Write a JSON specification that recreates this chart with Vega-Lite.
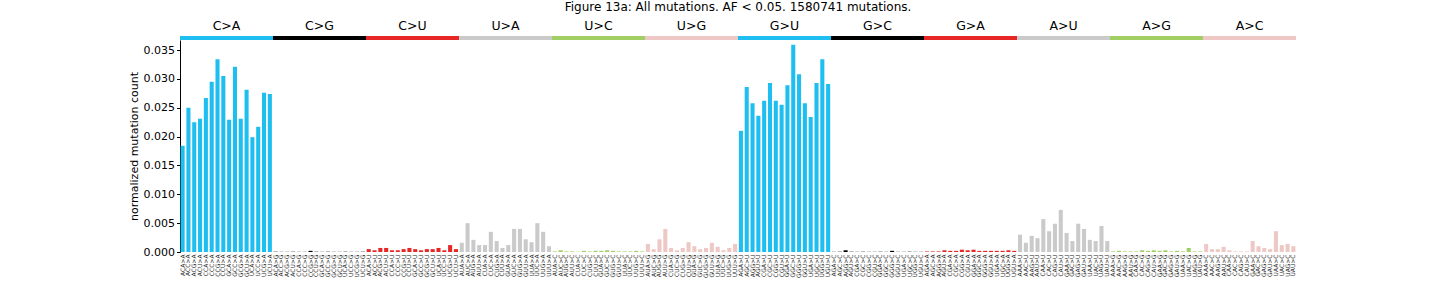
{
  "$schema": "https://vega.github.io/schema/vega-lite/v6.json",
  "padding": {"left": 128, "top": 1, "right": 144, "bottom": 8},
  "background": "white",
  "title": {"text": "Figure 13a: All mutations. AF < 0.05. 1580741 mutations.", "fontSize": 12, "font": "DejaVu Sans", "fontWeight": "normal", "color": "#000000", "anchor": "middle", "frame": "group", "offset": 5},
  "config": {"view": {"stroke": null}, "font": "DejaVu Sans"},
  "spacing": 0,
  "datasets": {
    "types": [
      {"type": "C>A"}, {"type": "C>G"}, {"type": "C>U"}, {"type": "U>A"}, {"type": "U>C"}, {"type": "U>G"},
      {"type": "G>U"}, {"type": "G>C"}, {"type": "G>A"}, {"type": "A>U"}, {"type": "A>G"}, {"type": "A>C"}
    ],
    "bars": [
      {"label": "ACA>A", "type": "C>A", "value": 0.0184},
      {"label": "ACC>A", "type": "C>A", "value": 0.0250},
      {"label": "ACG>A", "type": "C>A", "value": 0.0225},
      {"label": "ACU>A", "type": "C>A", "value": 0.0231},
      {"label": "CCA>A", "type": "C>A", "value": 0.0267},
      {"label": "CCC>A", "type": "C>A", "value": 0.0295},
      {"label": "CCG>A", "type": "C>A", "value": 0.0334},
      {"label": "CCU>A", "type": "C>A", "value": 0.0305},
      {"label": "GCA>A", "type": "C>A", "value": 0.0229},
      {"label": "GCC>A", "type": "C>A", "value": 0.0321},
      {"label": "GCG>A", "type": "C>A", "value": 0.0231},
      {"label": "GCU>A", "type": "C>A", "value": 0.0281},
      {"label": "UCA>A", "type": "C>A", "value": 0.0199},
      {"label": "UCC>A", "type": "C>A", "value": 0.0217},
      {"label": "UCG>A", "type": "C>A", "value": 0.0276},
      {"label": "UCU>A", "type": "C>A", "value": 0.0274},
      {"label": "ACA>G", "type": "C>G", "value": 0.00005},
      {"label": "ACC>G", "type": "C>G", "value": 0.00003},
      {"label": "ACG>G", "type": "C>G", "value": 0.00003},
      {"label": "ACU>G", "type": "C>G", "value": 0.00005},
      {"label": "CCA>G", "type": "C>G", "value": 0.00003},
      {"label": "CCC>G", "type": "C>G", "value": 0.00003},
      {"label": "CCG>G", "type": "C>G", "value": 0.0002},
      {"label": "CCU>G", "type": "C>G", "value": 0.00005},
      {"label": "GCA>G", "type": "C>G", "value": 0.00003},
      {"label": "GCC>G", "type": "C>G", "value": 0.00005},
      {"label": "GCG>G", "type": "C>G", "value": 0.00003},
      {"label": "GCU>G", "type": "C>G", "value": 0.00003},
      {"label": "UCA>G", "type": "C>G", "value": 0.00005},
      {"label": "UCC>G", "type": "C>G", "value": 0.00003},
      {"label": "UCG>G", "type": "C>G", "value": 0.00003},
      {"label": "UCU>G", "type": "C>G", "value": 0.00005},
      {"label": "ACA>U", "type": "C>U", "value": 0.0005},
      {"label": "ACC>U", "type": "C>U", "value": 0.0003},
      {"label": "ACG>U", "type": "C>U", "value": 0.0007},
      {"label": "ACU>U", "type": "C>U", "value": 0.0007},
      {"label": "CCA>U", "type": "C>U", "value": 0.0003},
      {"label": "CCC>U", "type": "C>U", "value": 0.0003},
      {"label": "CCG>U", "type": "C>U", "value": 0.0005},
      {"label": "CCU>U", "type": "C>U", "value": 0.0007},
      {"label": "GCA>U", "type": "C>U", "value": 0.0005},
      {"label": "GCC>U", "type": "C>U", "value": 0.0003},
      {"label": "GCG>U", "type": "C>U", "value": 0.0005},
      {"label": "GCU>U", "type": "C>U", "value": 0.0005},
      {"label": "UCA>U", "type": "C>U", "value": 0.0007},
      {"label": "UCC>U", "type": "C>U", "value": 0.0003},
      {"label": "UCG>U", "type": "C>U", "value": 0.0012},
      {"label": "UCU>U", "type": "C>U", "value": 0.0005},
      {"label": "AUA>A", "type": "U>A", "value": 0.0016},
      {"label": "AUC>A", "type": "U>A", "value": 0.0050},
      {"label": "AUG>A", "type": "U>A", "value": 0.0021},
      {"label": "AUU>A", "type": "U>A", "value": 0.0012},
      {"label": "CUA>A", "type": "U>A", "value": 0.0012},
      {"label": "CUC>A", "type": "U>A", "value": 0.0035},
      {"label": "CUG>A", "type": "U>A", "value": 0.0019},
      {"label": "CUU>A", "type": "U>A", "value": 0.0007},
      {"label": "GUA>A", "type": "U>A", "value": 0.0012},
      {"label": "GUC>A", "type": "U>A", "value": 0.0040},
      {"label": "GUG>A", "type": "U>A", "value": 0.0040},
      {"label": "GUU>A", "type": "U>A", "value": 0.0022},
      {"label": "UUA>A", "type": "U>A", "value": 0.0017},
      {"label": "UUC>A", "type": "U>A", "value": 0.0050},
      {"label": "UUG>A", "type": "U>A", "value": 0.0035},
      {"label": "UUU>A", "type": "U>A", "value": 0.0010},
      {"label": "AUA>C", "type": "U>C", "value": 0.0001},
      {"label": "AUC>C", "type": "U>C", "value": 0.0003},
      {"label": "AUG>C", "type": "U>C", "value": 0.0001},
      {"label": "AUU>C", "type": "U>C", "value": 0.0001},
      {"label": "CUA>C", "type": "U>C", "value": 0.00005},
      {"label": "CUC>C", "type": "U>C", "value": 0.0002},
      {"label": "CUG>C", "type": "U>C", "value": 0.0001},
      {"label": "CUU>C", "type": "U>C", "value": 0.0002},
      {"label": "GUA>C", "type": "U>C", "value": 0.0002},
      {"label": "GUC>C", "type": "U>C", "value": 0.0003},
      {"label": "GUG>C", "type": "U>C", "value": 0.0002},
      {"label": "GUU>C", "type": "U>C", "value": 0.0001},
      {"label": "UUA>C", "type": "U>C", "value": 0.0001},
      {"label": "UUC>C", "type": "U>C", "value": 0.0001},
      {"label": "UUG>C", "type": "U>C", "value": 0.0002},
      {"label": "UUU>C", "type": "U>C", "value": 0.0001},
      {"label": "AUA>G", "type": "U>G", "value": 0.0014},
      {"label": "AUC>G", "type": "U>G", "value": 0.0005},
      {"label": "AUG>G", "type": "U>G", "value": 0.0022},
      {"label": "AUU>G", "type": "U>G", "value": 0.0040},
      {"label": "CUA>G", "type": "U>G", "value": 0.0007},
      {"label": "CUC>G", "type": "U>G", "value": 0.0003},
      {"label": "CUG>G", "type": "U>G", "value": 0.0007},
      {"label": "CUU>G", "type": "U>G", "value": 0.0017},
      {"label": "GUA>G", "type": "U>G", "value": 0.0010},
      {"label": "GUC>G", "type": "U>G", "value": 0.0005},
      {"label": "GUG>G", "type": "U>G", "value": 0.0007},
      {"label": "GUU>G", "type": "U>G", "value": 0.0016},
      {"label": "UUA>G", "type": "U>G", "value": 0.0009},
      {"label": "UUC>G", "type": "U>G", "value": 0.0003},
      {"label": "UUG>G", "type": "U>G", "value": 0.0007},
      {"label": "UUU>G", "type": "U>G", "value": 0.0014},
      {"label": "AGA>U", "type": "G>U", "value": 0.0210},
      {"label": "AGC>U", "type": "G>U", "value": 0.0286},
      {"label": "AGG>U", "type": "G>U", "value": 0.0258},
      {"label": "AGU>U", "type": "G>U", "value": 0.0236},
      {"label": "CGA>U", "type": "G>U", "value": 0.0262},
      {"label": "CGC>U", "type": "G>U", "value": 0.0293},
      {"label": "CGG>U", "type": "G>U", "value": 0.0262},
      {"label": "CGU>U", "type": "G>U", "value": 0.0255},
      {"label": "GGA>U", "type": "G>U", "value": 0.0289},
      {"label": "GGC>U", "type": "G>U", "value": 0.0359},
      {"label": "GGG>U", "type": "G>U", "value": 0.0308},
      {"label": "GGU>U", "type": "G>U", "value": 0.0258},
      {"label": "UGA>U", "type": "G>U", "value": 0.0234},
      {"label": "UGC>U", "type": "G>U", "value": 0.0293},
      {"label": "UGG>U", "type": "G>U", "value": 0.0334},
      {"label": "UGU>U", "type": "G>U", "value": 0.0291},
      {"label": "AGA>C", "type": "G>C", "value": 0.00003},
      {"label": "AGC>C", "type": "G>C", "value": 0.00005},
      {"label": "AGG>C", "type": "G>C", "value": 0.0003},
      {"label": "AGU>C", "type": "G>C", "value": 0.00005},
      {"label": "CGA>C", "type": "G>C", "value": 0.00003},
      {"label": "CGC>C", "type": "G>C", "value": 0.00005},
      {"label": "CGG>C", "type": "G>C", "value": 0.00003},
      {"label": "CGU>C", "type": "G>C", "value": 0.00003},
      {"label": "GGA>C", "type": "G>C", "value": 0.00005},
      {"label": "GGC>C", "type": "G>C", "value": 0.00003},
      {"label": "GGG>C", "type": "G>C", "value": 0.0002},
      {"label": "GGU>C", "type": "G>C", "value": 0.00003},
      {"label": "UGA>C", "type": "G>C", "value": 0.00003},
      {"label": "UGC>C", "type": "G>C", "value": 0.00005},
      {"label": "UGG>C", "type": "G>C", "value": 0.00003},
      {"label": "UGU>C", "type": "G>C", "value": 0.00003},
      {"label": "AGA>A", "type": "G>A", "value": 0.0001},
      {"label": "AGC>A", "type": "G>A", "value": 0.0001},
      {"label": "AGG>A", "type": "G>A", "value": 0.0001},
      {"label": "AGU>A", "type": "G>A", "value": 0.0003},
      {"label": "CGA>A", "type": "G>A", "value": 0.0002},
      {"label": "CGC>A", "type": "G>A", "value": 0.0002},
      {"label": "CGG>A", "type": "G>A", "value": 0.0004},
      {"label": "CGU>A", "type": "G>A", "value": 0.0003},
      {"label": "GGA>A", "type": "G>A", "value": 0.0004},
      {"label": "GGC>A", "type": "G>A", "value": 0.0002},
      {"label": "GGG>A", "type": "G>A", "value": 0.0002},
      {"label": "GGU>A", "type": "G>A", "value": 0.0002},
      {"label": "UGA>A", "type": "G>A", "value": 0.0002},
      {"label": "UGC>A", "type": "G>A", "value": 0.0002},
      {"label": "UGG>A", "type": "G>A", "value": 0.0003},
      {"label": "UGU>A", "type": "G>A", "value": 0.0002},
      {"label": "AAA>U", "type": "A>U", "value": 0.0030},
      {"label": "AAC>U", "type": "A>U", "value": 0.0016},
      {"label": "AAG>U", "type": "A>U", "value": 0.0028},
      {"label": "AAU>U", "type": "A>U", "value": 0.0024},
      {"label": "CAA>U", "type": "A>U", "value": 0.0057},
      {"label": "CAC>U", "type": "A>U", "value": 0.0036},
      {"label": "CAG>U", "type": "A>U", "value": 0.0049},
      {"label": "CAU>U", "type": "A>U", "value": 0.0073},
      {"label": "GAA>U", "type": "A>U", "value": 0.0033},
      {"label": "GAC>U", "type": "A>U", "value": 0.0019},
      {"label": "GAG>U", "type": "A>U", "value": 0.0049},
      {"label": "GAU>U", "type": "A>U", "value": 0.0040},
      {"label": "UAA>U", "type": "A>U", "value": 0.0021},
      {"label": "UAC>U", "type": "A>U", "value": 0.0019},
      {"label": "UAG>U", "type": "A>U", "value": 0.0045},
      {"label": "UAU>U", "type": "A>U", "value": 0.0019},
      {"label": "AAA>G", "type": "A>G", "value": 0.0001},
      {"label": "AAC>G", "type": "A>G", "value": 0.0002},
      {"label": "AAG>G", "type": "A>G", "value": 0.0001},
      {"label": "AAU>G", "type": "A>G", "value": 0.0001},
      {"label": "CAA>G", "type": "A>G", "value": 0.0001},
      {"label": "CAC>G", "type": "A>G", "value": 0.0003},
      {"label": "CAG>G", "type": "A>G", "value": 0.0002},
      {"label": "CAU>G", "type": "A>G", "value": 0.0003},
      {"label": "GAA>G", "type": "A>G", "value": 0.0002},
      {"label": "GAC>G", "type": "A>G", "value": 0.0003},
      {"label": "GAG>G", "type": "A>G", "value": 0.0001},
      {"label": "GAU>G", "type": "A>G", "value": 0.0002},
      {"label": "UAA>G", "type": "A>G", "value": 0.0001},
      {"label": "UAC>G", "type": "A>G", "value": 0.0007},
      {"label": "UAG>G", "type": "A>G", "value": 0.0001},
      {"label": "UAU>G", "type": "A>G", "value": 0.0001},
      {"label": "AAA>C", "type": "A>C", "value": 0.0014},
      {"label": "AAC>C", "type": "A>C", "value": 0.0005},
      {"label": "AAG>C", "type": "A>C", "value": 0.0005},
      {"label": "AAU>C", "type": "A>C", "value": 0.0009},
      {"label": "CAA>C", "type": "A>C", "value": 0.0003},
      {"label": "CAC>C", "type": "A>C", "value": 0.0001},
      {"label": "CAG>C", "type": "A>C", "value": 0.0001},
      {"label": "CAU>C", "type": "A>C", "value": 0.0001},
      {"label": "GAA>C", "type": "A>C", "value": 0.0019},
      {"label": "GAC>C", "type": "A>C", "value": 0.0010},
      {"label": "GAG>C", "type": "A>C", "value": 0.0007},
      {"label": "GAU>C", "type": "A>C", "value": 0.0005},
      {"label": "UAA>C", "type": "A>C", "value": 0.0036},
      {"label": "UAC>C", "type": "A>C", "value": 0.0012},
      {"label": "UAG>C", "type": "A>C", "value": 0.0014},
      {"label": "UAU>C", "type": "A>C", "value": 0.0010}
    ]
  },
  "vconcat": [
    {
      "data": {"name": "types"},
      "width": 1116,
      "height": 4,
      "mark": {"type": "rect"},
      "encoding": {
        "x": {"field": "type", "type": "nominal", "sort": null,
              "scale": {"paddingInner": 0, "paddingOuter": 0},
              "axis": {"orient": "top", "title": null, "ticks": false, "domain": false, "labelAngle": 0, "labelFontSize": 12.5, "labelPadding": 4, "labelColor": "#000000", "labelFont": "DejaVu Sans"}},
        "color": {"field": "type", "type": "nominal",
                  "scale": {"domain": ["C>A", "C>G", "C>U", "U>A", "U>C", "U>G", "G>U", "G>C", "G>A", "A>U", "A>G", "A>C"],
                            "range": ["#1EBFF0", "#000000", "#E62725", "#CBCACB", "#A1CF64", "#EDC8C5", "#1EBFF0", "#000000", "#E62725", "#CBCACB", "#A1CF64", "#EDC8C5"]},
                  "legend": null}
      }
    },
    {
      "data": {"name": "bars"},
      "width": 1116,
      "height": 212,
      "mark": {"type": "bar"},
      "encoding": {
        "x": {"field": "label", "type": "nominal", "sort": null,
              "scale": {"paddingInner": 0.3, "paddingOuter": 0.1},
              "axis": {"title": null, "labelAngle": 270, "labelFontSize": 6, "labelPadding": 2, "ticks": false, "domain": false, "labelOverlap": false, "labelColor": "#222222", "labelFont": "DejaVu Sans"}},
        "y": {"field": "value", "type": "quantitative",
              "scale": {"domain": [0, 0.03674], "nice": false, "zero": true},
              "axis": {"title": "normalized mutation count", "titleFontSize": 11, "titleFontWeight": "normal", "titleColor": "#000000", "titleFont": "DejaVu Sans",
                       "values": [0, 0.005, 0.01, 0.015, 0.02, 0.025, 0.03, 0.035], "format": ".3f",
                       "labelFontSize": 11, "labelColor": "#000000", "labelFont": "DejaVu Sans", "tickSize": 3.5, "tickColor": "#000000", "domainColor": "#000000", "grid": false}},
        "color": {"field": "type", "type": "nominal",
                  "scale": {"domain": ["C>A", "C>G", "C>U", "U>A", "U>C", "U>G", "G>U", "G>C", "G>A", "A>U", "A>G", "A>C"],
                            "range": ["#1EBFF0", "#000000", "#E62725", "#CBCACB", "#A1CF64", "#EDC8C5", "#1EBFF0", "#000000", "#E62725", "#CBCACB", "#A1CF64", "#EDC8C5"]},
                  "legend": null}
      }
    }
  ]
}
